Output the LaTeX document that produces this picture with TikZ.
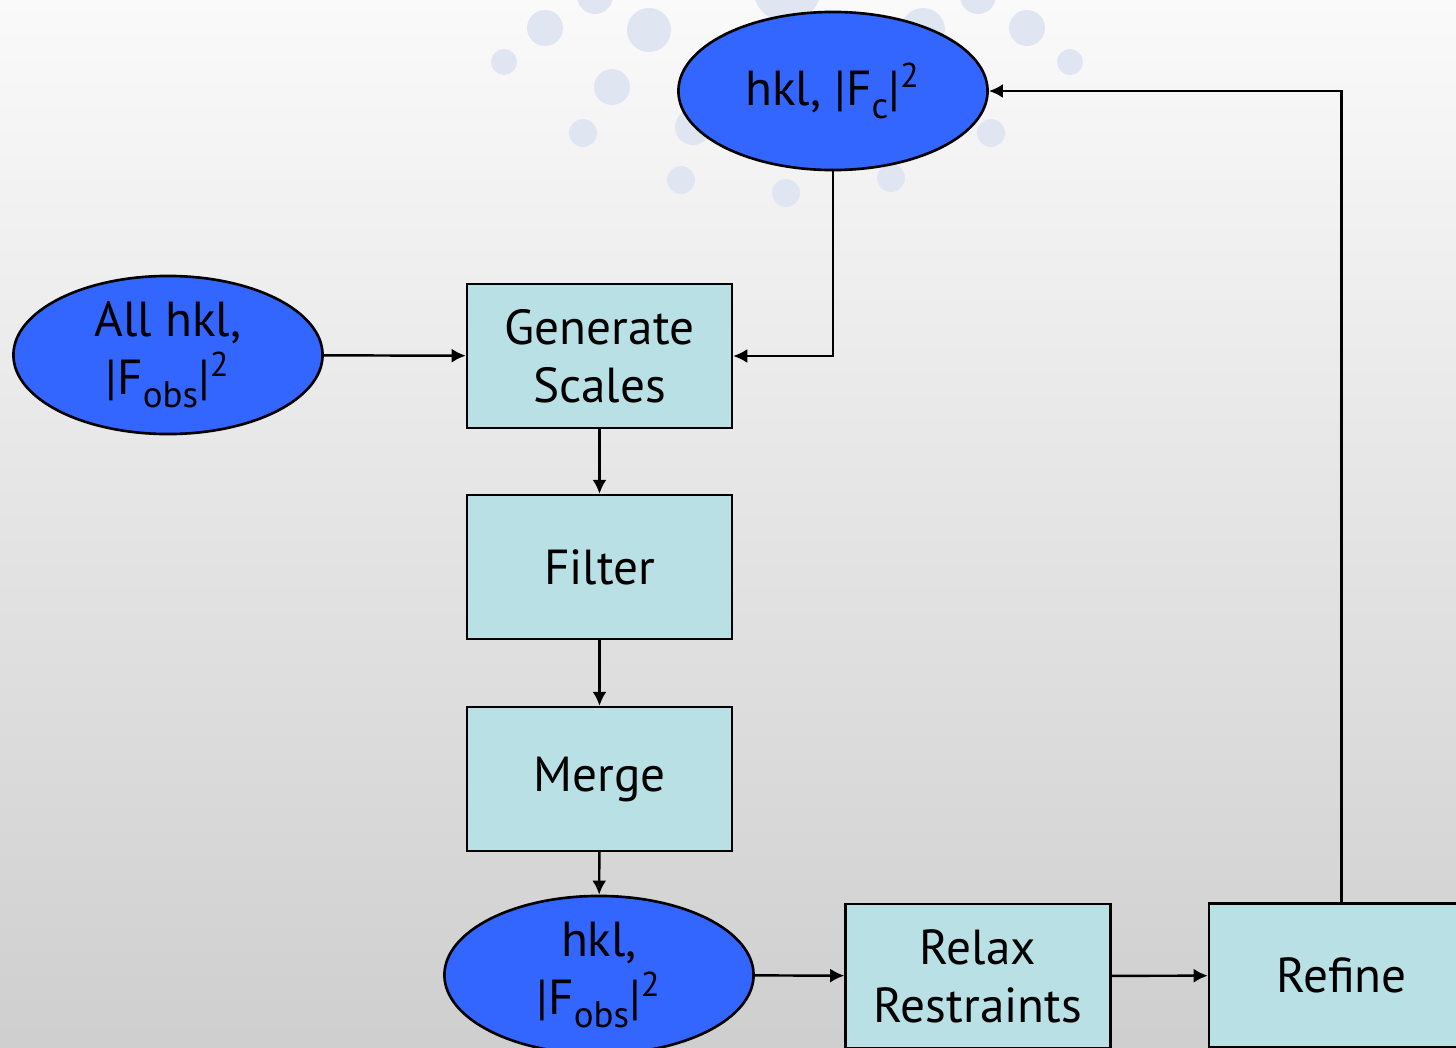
\documentclass[tikz,border=0pt]{standalone}
\usepackage{fontspec}
\setmainfont{PT Sans}
\usetikzlibrary{arrows.meta, positioning, shapes.geometric}
\definecolor{ovalblue}{RGB}{51,102,255}
\definecolor{boxcyan}{RGB}{185,224,228}
\definecolor{dotgray}{RGB}{224,230,241}
\newcommand{\Fsq}[1]{|F\raisebox{-3.6pt}{\fontsize{10.5}{10.5}\selectfont #1}|\textsuperscript{2}}

\begin{document}
\begin{tikzpicture}[x=0.01cm, y=-0.01cm,
    oval/.style={ellipse, draw=black, line width=0.75pt, fill=ovalblue,
        minimum width=3.09cm, minimum height=1.58cm, inner sep=0pt,
        align=center, font=\fontsize{14}{16.5}\selectfont},
    stepbox/.style={rectangle, draw=black, line width=0.65pt, fill=boxcyan,
        minimum width=2.65cm, minimum height=1.44cm, inner sep=0pt,
        align=center, font=\fontsize{14}{16.5}\selectfont},
    flow/.style={-{Latex[length=4pt,width=4pt]}, line width=0.7pt}]
    \useasboundingbox (0,0) rectangle (1456,1048);
    \clip (0,0) rectangle (1456,1048);
    % background
    \shade[top color=white!98!black, bottom color=black!19] (0,0) rectangle (1456,1048);
    \foreach \x/\y/\r in {545/28/18, 649/30/22, 504/62/13, 612/87/18, 583/133/14,
        681/180/14, 786/193/14, 891/178/14, 991/133/14, 1027/28/18, 1070/62/13,
        962/87/18, 923/30/22, 693/127/18, 881/127/18, 595/-4/18, 978/-4/18, 787/-12/34}
        \fill[dotgray] (\x,\y) circle[radius=\r*0.01cm];

    % nodes
    \node[oval] (hklc) at (833,91) {hkl, \Fsq{c}};
    \node[oval] (allhkl) at (168,355) {All hkl,\\\Fsq{obs}};
    \node[stepbox] (gen) at (599.5,356) {Generate\\Scales};
    \node[stepbox] (filter) at (599.5,567) {Filter};
    \node[stepbox] (merge) at (599.5,779) {Merge};
    \node[oval] (hklobs) at (599,975) {hkl,\\\Fsq{obs}};
    \node[stepbox] (relax) at (978,976) {Relax\\Restraints};
    \node[stepbox] (refine) at (1341.5,975.5) {Refine};

    % connectors
    \draw[flow] (allhkl) -- (gen);
    \draw[flow] (hklc.south) |- (gen.east);
    \draw[flow] (gen) -- (filter);
    \draw[flow] (filter) -- (merge);
    \draw[flow] (merge) -- (hklobs);
    \draw[flow] (hklobs) -- (relax);
    \draw[flow] (relax) -- (refine);
    \draw[flow] (refine.north) |- (hklc.east);
\end{tikzpicture}
\end{document}
